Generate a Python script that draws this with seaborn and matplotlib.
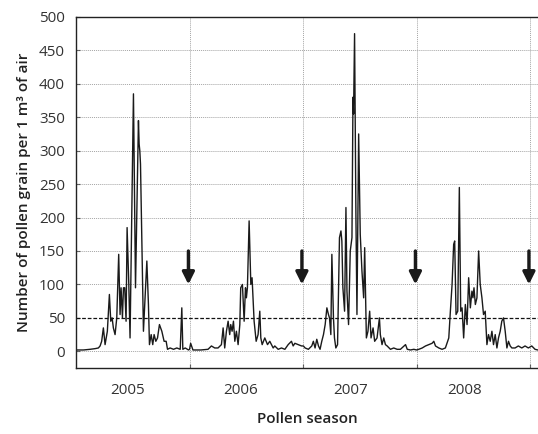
import numpy as np
import pandas as pd
import matplotlib
matplotlib.use("Agg")
import matplotlib.pyplot as plt
import seaborn as sns

# ===================== data =====================
seasons = ["2005", "2006", "2007", "2008"]

# position within each season (0-100 % of the season block) and daily pollen counts
pos_2005 = [0, 6.5, 12.4, 16.8, 19.7, 21.2, 22.6, 24.1, 25.6, 27.6, 29.4, 30.6, 31.8, 32.9, 34.4,
            35.9, 37.6, 38.8, 39.7, 40.9, 41.8, 42.9, 44.1, 45, 46.5, 47.6, 50.6, 52.4, 55, 55.6,
            56.2, 56.8, 59.4, 62.4, 63.8, 64.7, 66.2, 67.6, 68.8, 70.3, 71.8, 73.5, 75.6, 77.6,
            79.4, 80.6, 82.9, 85.9, 88.8, 91.8, 93.2, 94.1, 96.2, 99.1]
pollen_2005 = [2, 2, 3, 4, 5, 8, 15, 35, 10, 30, 85, 45, 50, 35, 25,
               50, 145, 55, 95, 50, 95, 95, 45, 185, 100, 20, 385, 95, 345, 310,
               300, 280, 30, 135, 70, 10, 25, 10, 25, 15, 20, 40, 30, 15,
               15, 3, 5, 3, 5, 3, 65, 3, 5, 2]

pos_2006 = [0, 1, 3, 10, 16.3, 19.3, 22.2, 25.1, 28.1, 29.6, 31, 32.5, 34, 35.4, 36.3,
            37.5, 38.7, 39.9, 41.3, 42.8, 44.3, 45.1, 46.6, 48.1, 49.3, 50.1, 51, 52.5, 54, 55.1,
            56.9, 58.7, 60.4, 61.9, 62.8, 64, 66.3, 68.7, 70.7, 73.7, 75.1, 78.1, 81, 84,
            86.9, 89.8, 91.3, 92.8, 95.7, 98.7]
pollen_2006 = [3, 12, 2, 2, 3, 8, 5, 5, 10, 35, 5, 30, 45, 25, 40,
               30, 45, 15, 30, 10, 40, 95, 100, 45, 95, 80, 95, 195, 100, 110,
               45, 15, 25, 60, 20, 10, 20, 10, 15, 5, 8, 3, 5, 3,
               10, 15, 8, 12, 10, 8]

pos_2007 = [0.3, 1.8, 4.7, 7.7, 9.1, 10.6, 12.1, 13.6, 15, 16.5, 18, 19.5, 21, 22.4, 23.3,
            24.5, 25.4, 26.8, 27.7, 28.9, 30.4, 32.1, 33.4, 34.2, 35.1, 36.6, 37.8, 38.7, 40.1,
            41.6, 43.1, 44, 44.5, 45.4, 46.6, 47.5, 49, 50.4, 51.9, 53.4, 54.3, 55.8, 57.2, 58.7,
            59.9, 61.7, 63.1, 65.2, 67.3, 68.1, 69.6, 71.1, 72.6, 74.1, 77, 79.9, 82.9, 85.8,
            90.3, 91.8, 94.7, 97.6]
pollen_2007 = [8, 5, 3, 8, 15, 5, 18, 8, 3, 15, 25, 40, 65, 55, 50,
               25, 145, 50, 20, 5, 10, 170, 180, 165, 95, 60, 215, 90, 40,
               150, 170, 380, 355, 475, 200, 55, 325, 175, 120, 80, 155, 20, 30, 60,
               20, 35, 15, 20, 50, 25, 10, 20, 10, 8, 3, 5, 3, 3,
               10, 3, 2, 3]

pos_2008 = [0, 2, 5, 7.9, 10.8, 13.7, 15.2, 16.7, 19.6, 22.5, 25.4, 28.4, 29.8, 31.3, 32.7,
            33.6, 34.8, 36.3, 37.7, 38.9, 40.1, 41.5, 43, 44.5, 45.9, 47.4, 48.8, 49.7, 50.6,
            51.8, 53.2, 54.7, 56.1, 57.6, 59, 60.5, 62, 63.4, 64.9, 66.4, 67.8, 69.3, 70.8, 72.2,
            73.7, 75.1, 76.6, 78.1, 79.6, 81, 82.5, 84, 86.8, 89.7, 92.7, 95.6, 98.5, 101.5,
            104.4, 106.8]
pollen_2008 = [2, 3, 5, 8, 10, 12, 15, 8, 5, 3, 5, 20, 60, 100, 160,
               165, 55, 60, 245, 60, 65, 20, 70, 40, 110, 65, 90, 80, 95,
               70, 80, 150, 100, 80, 55, 60, 10, 25, 15, 30, 10, 25, 5, 20,
               30, 45, 50, 30, 5, 15, 8, 5, 5, 8, 5, 8, 5, 8,
               3, 2]

threshold = 50          # dashed reference line
arrow_top, arrow_tip = 150, 100

# ===================== table =====================
parts = []
for i, (p, v) in enumerate(zip([pos_2005, pos_2006, pos_2007, pos_2008],
                               [pollen_2005, pollen_2006, pollen_2007, pollen_2008])):
    parts.append(pd.DataFrame({"x": i + np.array(p) / 100.0, "pollen": v, "season": seasons[i]}))
df = pd.concat(parts, ignore_index=True)

# ===================== style =====================
sns.set_style("ticks")
plt.rcParams['font.family'] = ['Open Sans', 'DejaVu Sans']
plt.rcParams['font.size'] = 11

fig = plt.figure(figsize=(5.38, 4.34), dpi=100)
ax = fig.add_axes([0.1413, 0.152, 0.8587, 0.809])

sns.lineplot(data=df, x="x", y="pollen", sort=False, estimator=None,
             color="#1a1a1a", linewidth=1.0, ax=ax)

ax.set_xlim(0, 4.07)
ax.set_ylim(-25, 500)

# grid
yt = np.arange(0, 501, 50)
for v in yt[:-1]:
    if v == threshold:
        ax.axhline(v, color="#111111", lw=0.9, ls=(0, (3, 1.5)), zorder=1)
    else:
        ax.axhline(v, color="#a5a5a5", lw=0.7, ls=(0, (1, 1)), zorder=1)
for s in range(1, 5):
    ax.axvline(s, color="#a5a5a5", lw=0.7, ls=(0, (1, 1)), zorder=1)

# arrows marking the end of each season
for s in range(1, 5):
    ax.annotate("", xy=(s - 0.01, arrow_tip), xytext=(s - 0.01, arrow_top),
                arrowprops=dict(arrowstyle="-|>", lw=2.4, color="#1a1a1a",
                                mutation_scale=18, shrinkA=0, shrinkB=0))

# axes ticks
ax.set_yticks(yt)
ax.tick_params(axis="y", direction="in", length=3, width=0.8, labelsize=11,
               labelcolor="#333333", pad=8)
ax.set_xticks([1, 2, 3, 4])
ax.set_xticklabels([])
ax.tick_params(axis="x", which="major", direction="in", length=3, width=0.8)
ax.set_xticks([0.45, 1.45, 2.42, 3.42], minor=True)
ax.set_xticklabels(seasons, minor=True)
ax.tick_params(axis="x", which="minor", length=0, labelsize=11,
               labelcolor="#333333", pad=11)

ax.spines["right"].set_visible(False)
for sp in ["left", "bottom", "top"]:
    ax.spines[sp].set_linewidth(1.0)
    ax.spines[sp].set_color("#222222")

ax.set_xlabel("Pollen season", fontsize=11, weight="semibold", color="#222222", labelpad=10)
ax.set_ylabel("Number of pollen grain per 1 m³ of air", fontsize=11, weight="semibold",
              color="#222222", labelpad=6)

fig.savefig("out.png", dpi=100)
